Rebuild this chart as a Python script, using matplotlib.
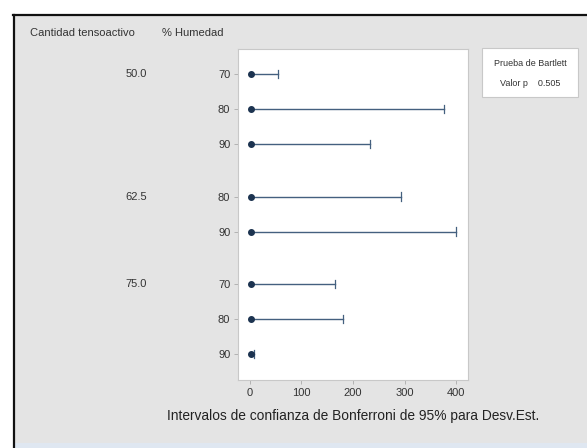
import matplotlib
matplotlib.use("Agg")
import matplotlib.pyplot as plt
from matplotlib.patches import Rectangle
from matplotlib.lines import Line2D

# Data: Bonferroni 95% confidence intervals for the standard deviation
tensoactivo = ["50.0", "50.0", "50.0", "62.5", "62.5", "75.0", "75.0", "75.0"]
humedad = ["70", "80", "90", "80", "90", "70", "80", "90"]
desv_est = [2.0, 2.5, 2.5, 2.5, 3.0, 2.0, 2.0, 2.0]
ic_inferior = [0.8, 1.0, 1.0, 1.0, 1.2, 0.8, 0.8, 0.8]
ic_superior = [54, 377, 233, 294, 400, 166, 181, 8]
row_pos = [0, 1, 2, 3.5, 4.5, 6, 7, 8]
x_ticks = [0, 100, 200, 300, 400]
p_valor = 0.505

W, H = 587, 448
fig = plt.figure(figsize=(W / 100, H / 100), dpi=100)
fig.patch.set_facecolor("white")

def fx(px):
    return px / W

def fy(py):
    return 1 - py / H

# Gray panel with dark frame on left/top, light blue strip along the bottom
fig.patches.append(Rectangle((fx(13), fy(443)), fx(W - 13), fy(15) - fy(443),
                             transform=fig.transFigure, facecolor="#e4e4e4",
                             edgecolor="none", zorder=-2))
fig.patches.append(Rectangle((fx(13), 0), fx(W - 13), fy(443),
                             transform=fig.transFigure, facecolor="#dfe7f1",
                             edgecolor="none", zorder=-2))
fig.lines.append(Line2D([fx(13.5), fx(13.5)], [0, fy(15)], transform=fig.transFigure,
                        color="#111111", lw=1.6, zorder=-1))
fig.lines.append(Line2D([fx(13), 1], [fy(15.5), fy(15.5)], transform=fig.transFigure,
                        color="#111111", lw=1.6, zorder=-1))

font = "Liberation Sans"
txt_color = "#333333"

ax = fig.add_axes([fx(238), fy(380), fx(468 - 238), fy(49) - fy(380)])
ax.set_zorder(1)
ax.set_facecolor("white")
for s in ax.spines.values():
    s.set_color("#c8c8c8")
    s.set_linewidth(0.8)

line_color = "#44607f"
dot_color = "#1c3350"
for y, lo, hi, sd in zip(row_pos, ic_inferior, ic_superior, desv_est):
    ax.plot([lo, hi], [y, y], color=line_color, lw=1.0, zorder=2)
    ax.plot([hi, hi], [y - 0.12, y + 0.12], color=line_color, lw=0.9, zorder=2)
    ax.plot([sd], [y], "o", color=dot_color, ms=4, zorder=3)

ax.set_xlim(-23, 423)
ax.set_ylim(8.74, -0.714)
ax.set_xticks(x_ticks)
ax.set_xticklabels([str(t) for t in x_ticks], fontsize=8, family=font, color=txt_color)
ax.set_yticks(row_pos)
ax.set_yticklabels(humedad, fontsize=8, family=font, color=txt_color)
ax.tick_params(axis="both", length=3, width=0.6, color="#aaaaaa", pad=2.5)
ax.set_xlabel("Intervalos de confianza de Bonferroni de 95% para Desv.Est.",
              fontsize=9.9, family=font, color="#222222", labelpad=8)

# Group labels for surfactant amount
shown = set()
for y, t in zip(row_pos, tensoactivo):
    if t not in shown:
        shown.add(t)
        fig.text(fx(147), fy(74 + y * 35), t, ha="right", va="center",
                 fontsize=8, family=font, color=txt_color)

fig.text(fx(30), fy(33), "Cantidad tensoactivo", ha="left", va="center",
         fontsize=8, family=font, color=txt_color)
fig.text(fx(162), fy(33), "% Humedad", ha="left", va="center",
         fontsize=8, family=font, color=txt_color)

# Bartlett test box
fig.patches.append(Rectangle((fx(482), fy(97)), fx(578 - 482), fy(48) - fy(97),
                             transform=fig.transFigure, facecolor="white",
                             edgecolor="#c8c8c8", lw=0.8, zorder=2))
fig.text(fx(530), fy(64), "Prueba de Bartlett", ha="center", va="center",
         fontsize=6.5, family=font, color=txt_color, zorder=3)
fig.text(fx(530), fy(84), f"Valor p    {p_valor:.3f}", ha="center", va="center",
         fontsize=6.5, family=font, color=txt_color, zorder=3)

fig.savefig("out.png", dpi=100, facecolor=fig.get_facecolor())
